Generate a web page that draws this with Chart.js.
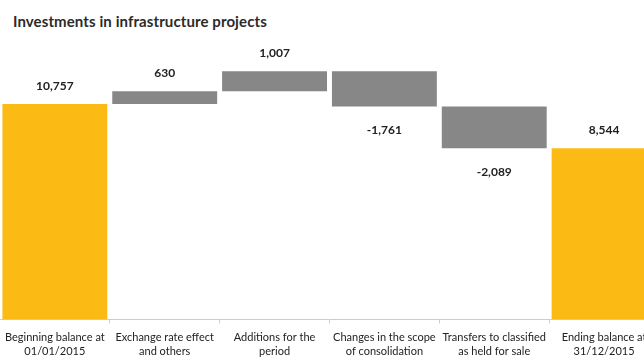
<!doctype html>
<html>
<head>
<meta charset="utf-8" />
<title>Investments in infrastructure projects</title>
<script src="https://cdn.jsdelivr.net/npm/chart.js"></script>
<style>
  html, body { margin: 0; padding: 0; overflow: hidden; background: #fff; width: 644px; height: 357px; }
  #title { position: absolute; left: 13px; top: 12px; font: bold 15px Lato, sans-serif; letter-spacing: 0.1px; color: #2b2b2b; white-space: nowrap; }
  #wrap { position: absolute; left: -2px; top: 0; width: 661px; height: 366px; }
</style>
</head>
<body>
<div id="title">Investments in infrastructure projects</div>
<div id="wrap"><canvas id="chart"></canvas></div>
<script>
// categories and values
const categories = [
  ['Beginning balance at', '01/01/2015'],
  ['Exchange rate effect', 'and others'],
  ['Additions for the', 'period'],
  ['Changes in the scope', 'of consolidation'],
  ['Transfers to classified', 'as held for sale'],
  ['Ending balance at', '31/12/2015']
];
const values = [10757, 630, 1007, -1761, -2089, 8544];
const isTotal = [true, false, false, false, false, true];

const YELLOW = '#FCBB14';
const GREY = '#878787';

// waterfall: totals start at 0, changes float on the running sum
let running = 0;
const bars = values.map((v, i) => {
  if (isTotal[i]) { running = v; return [0, v]; }
  const start = running;
  running += v;
  return [start, running];
});

const valueLabels = {
  id: 'valueLabels',
  afterDatasetsDraw(chart) {
    const ctx = chart.ctx;
    const meta = chart.getDatasetMeta(0);
    ctx.save();
    ctx.font = 'bold 12px Lato, sans-serif';
    ctx.fillStyle = '#222';
    ctx.textAlign = 'center';
    ctx.textBaseline = 'middle';
    meta.data.forEach((bar, i) => {
      const v = values[i];
      const txt = (v < 0 ? '-' : '') + Math.abs(v).toLocaleString('en-US');
      const top = Math.min(bar.y, bar.base);
      const bottom = Math.max(bar.y, bar.base);
      const y = v < 0 ? bottom + 24 : top - 18;
      ctx.fillText(txt, bar.x, y);
    });
    ctx.restore();
  }
};

new Chart(document.getElementById('chart'), {
  type: 'bar',
  data: {
    labels: categories,
    datasets: [{
      data: bars,
      backgroundColor: isTotal.map(t => t ? YELLOW : GREY),
      borderWidth: 0,
      barPercentage: 0.955,
      categoryPercentage: 1
    }]
  },
  options: {
    responsive: true,
    maintainAspectRatio: false,
    animation: false,
    layout: { padding: { top: 39, left: 0, right: 0, bottom: 0 } },
    plugins: { legend: { display: false }, tooltip: { enabled: false }, title: { display: false } },
    scales: {
      x: {
        offset: true,
        grid: { display: true, drawOnChartArea: false, offset: true, tickLength: 4, color: '#cccccc' },
        border: { display: true, color: '#cccccc' },
        ticks: { color: '#222', padding: 7, maxRotation: 0, autoSkip: false, font: { family: 'Lato, sans-serif', size: 11, lineHeight: 1.3 } }
      },
      y: { display: false, min: 0, max: 14000 }
    }
  },
  plugins: [valueLabels]
});
</script>
</body>
</html>
